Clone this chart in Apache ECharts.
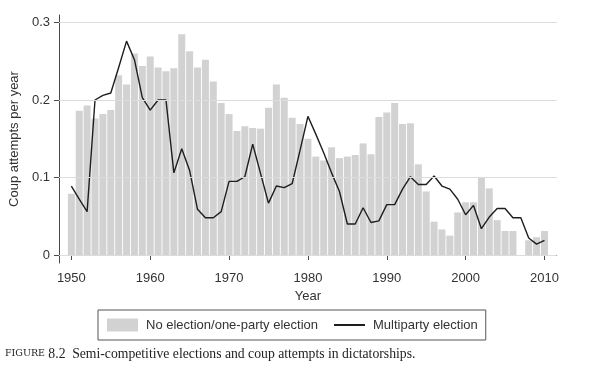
<!DOCTYPE html>
<html>
<head>
<meta charset="utf-8">
<script src="https://cdn.jsdelivr.net/npm/echarts@6/dist/echarts.min.js"></script>
<style>html,body{margin:0;padding:0;background:#fff;}#c{width:606px;height:367px;}</style>
</head>
<body>
<div id="c"></div>
<script>
var years = [];
for (var y = 1950; y <= 2010; y++) years.push(y);

var noElection = [0.079,0.186,0.193,0.176,0.182,0.187,0.232,0.220,0.260,0.244,
0.256,0.242,0.237,0.241,0.285,0.263,0.242,0.252,0.224,0.196,
0.182,0.160,0.166,0.164,0.163,0.190,0.220,0.203,0.177,0.169,
0.150,0.127,0.122,0.139,0.125,0.127,0.129,0.144,0.130,0.178,
0.184,0.196,0.169,0.170,0.117,0.082,0.043,0.033,0.025,0.055,
0.068,0.068,0.100,0.086,0.045,0.031,0.031,null,0.019,0.023,
0.031];

var multiparty = [0.089,0.072,0.056,0.200,0.206,0.209,0.242,0.276,0.252,0.203,
0.187,0.200,0.200,0.106,0.137,0.109,0.059,0.048,0.048,0.056,
0.095,0.095,0.101,0.143,0.105,0.067,0.089,0.087,0.092,0.135,
0.179,0.156,0.132,0.106,0.082,0.040,0.040,0.061,0.042,0.044,
0.065,0.065,0.085,0.101,0.091,0.091,0.102,0.089,0.085,0.072,
0.052,0.064,0.034,0.049,0.060,0.060,0.048,0.048,0.022,0.014,
0.019];

var xTicks = [1950,1960,1970,1980,1990,2000,2010];
var yTicks = [0,0.1,0.2,0.3];
var seriesNames = ['No election/one-party election','Multiparty election'];
var caption = 'Semi-competitive elections and coup attempts in dictatorships.';

var barData = years.map(function(yr,i){ return [yr, noElection[i]]; });
var lineData = years.map(function(yr,i){ return [yr, multiparty[i]]; });

var chart = echarts.init(document.getElementById('c'), null, {renderer:'canvas'});
var axisCol = '#4a4a4a';
var txtCol = '#333333';
var font = 'Liberation Sans, Arial, sans-serif';

chart.setOption({
  animation: false,
  backgroundColor: '#ffffff',
  grid: {left: 51.7, right: 49.3, top: 15, bottom: 104, containLabel: false},
  xAxis: {
    type: 'value', min: 1948.43, max: 2011.55,
    name: 'Year', nameLocation: 'middle', nameGap: 27,
    nameTextStyle: {color: txtCol, fontSize: 13, fontFamily: font},
    axisLine: {show: true, lineStyle: {color: axisCol, width: 1}},
    axisTick: {show: true, length: 5, lineStyle: {color: axisCol}, customValues: xTicks},
    axisLabel: {customValues: xTicks, margin: 9, color: txtCol, fontSize: 13, fontFamily: font,
      formatter: function(v){ return String(Math.round(v)); }},
    splitLine: {show: false}
  },
  yAxis: {
    type: 'value', min: -0.0103, max: 0.3097,
    name: 'Coup attempts per year', nameLocation: 'middle', nameGap: 33, nameRotate: 90,
    nameTextStyle: {color: txtCol, fontSize: 13, fontFamily: font},
    axisLine: {show: true, lineStyle: {color: axisCol, width: 1}},
    axisTick: {show: true, length: 5, lineStyle: {color: axisCol}, customValues: yTicks},
    axisLabel: {customValues: yTicks, margin: 9, color: txtCol, fontSize: 13, fontFamily: font,
      formatter: function(v){ return v === 0 ? '0' : v.toFixed(1); }},
    splitLine: {show: false}
  },
  legend: {
    left: 98, top: 310,
    padding: [8.5, 8, 8.5, 9],
    itemGap: 15, itemWidth: 31, itemHeight: 13,
    borderColor: '#555', borderWidth: 1, borderRadius: 0,
    textStyle: {color: txtCol, fontSize: 13, fontFamily: font, padding: [0,0,0,3]},
    data: [
      {name: seriesNames[0], icon: 'rect'},
      {name: seriesNames[1], itemStyle: {opacity: 0, borderWidth: 0}}
    ]
  },
  graphic: [{
    type: 'text', left: 5, top: 347,
    style: {
      text: '{sc|FIGURE} {n|8.2}  {n|' + caption + '}',
      rich: {
        sc: {fontFamily: 'DejaVu Serif, serif', fontSize: 9.5, fill: '#222'},
        n: {fontFamily: 'Liberation Serif, DejaVu Serif, serif', fontSize: 13.7, fill: '#222'}
      }
    }
  }],
  series: [
    {
      type: 'line', name: '_grid', data: [], z: 0, silent: true,
      markLine: {
        silent: true, symbol: 'none', animation: false,
        label: {show: false},
        lineStyle: {color: '#dcdcdc', width: 1, type: 'solid'},
        data: yTicks.map(function(v){ return {yAxis: v}; })
      }
    },
    {
      type: 'bar', name: seriesNames[0], data: barData, barWidth: 7, z: 2,
      itemStyle: {color: '#d2d2d2'}
    },
    {
      type: 'line', name: seriesNames[1], data: lineData, z: 3,
      showSymbol: false, symbol: 'none',
      lineStyle: {color: '#1e1e1e', width: 1.4},
      itemStyle: {color: '#1e1e1e'}
    }
  ]
});
</script>
</body>
</html>
